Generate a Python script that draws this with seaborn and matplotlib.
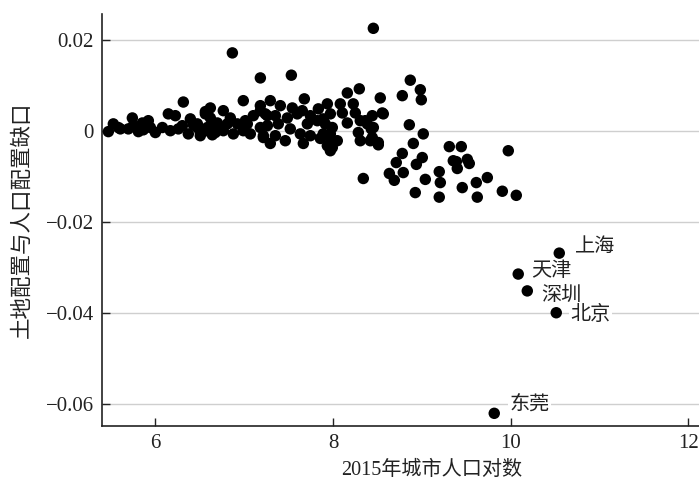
import matplotlib
matplotlib.use('Agg')
import matplotlib.pyplot as plt
import seaborn as sns
import pandas as pd

# log of 2015 urban population vs land/population allocation gap
log_pop = [
    5.471, 5.527, 5.606, 5.741, 5.752, 5.865, 5.854, 5.921, 6.000, 6.079,
    6.146, 6.225, 6.315, 6.304, 6.371, 6.394, 6.473, 6.563, 6.619, 6.653,
    6.506, 5.584, 5.696, 5.809, 5.944, 6.169, 6.259, 6.428, 6.574, 6.641,
    6.990, 6.563, 6.765, 6.473, 6.585, 6.698, 6.844, 6.923, 7.013, 7.103,
    7.182, 7.261, 6.506, 6.675, 6.765, 6.878, 6.990, 7.069, 7.182, 7.216,
    7.035, 6.810, 6.619, 6.867, 7.182, 7.531, 7.677, 7.936,
    7.294, 7.835, 7.182, 7.407, 7.542, 7.654, 7.238, 7.351, 7.486, 7.598,
    7.745, 7.823, 7.913, 7.261, 7.384, 7.519, 7.711, 7.216, 7.351, 7.463,
    7.632, 7.745, 7.857, 7.970, 7.936, 7.666, 7.294,
    8.161, 8.296, 8.532, 8.082, 8.228, 7.970, 8.105, 8.251, 8.307, 8.442,
    8.555, 8.161, 7.992, 8.386, 8.454, 7.970, 8.048, 8.285, 8.307, 8.420,
    8.510, 7.970, 7.890, 7.890, 7.992, 8.363, 8.431,
    8.454, 8.870, 8.983, 8.994, 8.780, 8.566, 8.859, 9.016, 8.904, 8.341,
    8.442, 8.510, 8.780, 8.712, 9.005, 8.938, 8.634, 8.791, 8.690, 9.039,
    8.926, 9.309, 9.444, 9.354, 9.388, 9.512, 9.534, 9.399, 9.196, 9.208,
    9.196, 9.455, 9.613, 9.737, 9.624, 9.906, 10.063, 9.973,
]
gap = [
    -0.0002, 0.0015, 0.0004, 0.0028, 0.0011, 0.0002, 0.0017, 0.0022, -0.0004, 0.0007,
    0.0037, 0.0033, 0.0063, 0.0011, -0.0007, 0.0026, 0.0007, 0.0037, 0.0050, 0.0017,
    -0.0004, 0.0007, 0.0004, -0.0002, 0.0007, 0.0000, 0.0004, 0.0013, 0.0000, -0.0009,
    0.0066, 0.0042, 0.0044, 0.0015, 0.0007, 0.0017, 0.0028, 0.0015, 0.0022, 0.0033,
    0.0044, 0.0033, -0.0011, -0.0004, 0.0000, -0.0007, 0.0000, -0.0007, 0.0007, -0.0015,
    0.0015, 0.0015, 0.0028, 0.0171, 0.0116, 0.0122, 0.0070, 0.0059,
    0.0066, 0.0048, 0.0055, 0.0055, 0.0050, 0.0044, 0.0037, 0.0033, 0.0028, 0.0037,
    0.0033, 0.0022, 0.0015, 0.0011, 0.0015, 0.0004, 0.0015, -0.0011, -0.0011, -0.0022,
    -0.0007, -0.0011, -0.0017, -0.0007, -0.0033, -0.0028, -0.0028,
    0.0083, 0.0092, 0.0072, 0.0059, 0.0059, 0.0037, 0.0039, 0.0039, 0.0022, 0.0033,
    0.0039, 0.0017, 0.0007, 0.0015, 0.0007, -0.0017, -0.0022, -0.0004, -0.0022, -0.0022,
    -0.0026, -0.0044, 0.0026, -0.0007, -0.0037, 0.0022, 0.0004,
    0.0225, 0.0111, 0.0090, 0.0068, 0.0077, 0.0037, 0.0013, -0.0007, -0.0028, -0.0105,
    -0.0015, -0.0031, -0.0050, -0.0070, -0.0059, -0.0074, -0.0094, -0.0092, -0.0109, -0.0107,
    -0.0136, -0.0035, -0.0035, -0.0066, -0.0068, -0.0063, -0.0072, -0.0083, -0.0090, -0.0114,
    -0.0146, -0.0125, -0.0114, -0.0103, -0.0146, -0.0133, -0.0142, -0.0044,
]

cities = ['上海', '天津', '深圳', '北京', '东莞']
city_pop = [10.547, 10.085, 10.187, 10.513, 9.815]
city_gap = [-0.0269, -0.0315, -0.0352, -0.0400, -0.0621]
city_offset = [(11, 4), (9, 2), (10, -4), (10, -2), (11, 6)]

y_ticks = [0.02, 0, -0.02, -0.04, -0.06]
y_labels = ['0.02', '0', '\u22120.02', '\u22120.04', '\u22120.06']
x_ticks = [6, 8, 10, 12]

sns.set_theme(style='white')
plt.rcParams['font.family'] = ['Liberation Serif', 'Noto Sans CJK SC']
plt.rcParams['axes.unicode_minus'] = True

df = pd.DataFrame({'x': log_pop + city_pop, 'y': gap + city_gap})

fig = plt.figure(figsize=(6.99, 4.82), dpi=100)
ax = fig.add_axes([0.146, 0.117, 0.854, 0.854])

ax.grid(axis='y', color='#cfcfcf', linewidth=1.0)
ax.set_axisbelow(True)
sns.scatterplot(data=df, x='x', y='y', color='black', s=68, edgecolor='none',
                linewidth=0, ax=ax, zorder=3)

for name, cx, cy, off in zip(cities, city_pop, city_gap, city_offset):
    ax.annotate(name, (cx, cy), xytext=off, textcoords='offset points',
                ha='left', va='center', fontsize=14.5, color='#222222',
                bbox=dict(facecolor='white', edgecolor='none', pad=1.0), zorder=4)

ax.set_xlim(5.4, 12.12)
ax.set_ylim(-0.0648, 0.02565)
ax.set_xticks(x_ticks)
ax.set_yticks(y_ticks)
ax.set_yticklabels(y_labels)

for side in ['top', 'right']:
    ax.spines[side].set_visible(False)
for side in ['left', 'bottom']:
    ax.spines[side].set_color('#222222')
    ax.spines[side].set_linewidth(1.2)

ax.tick_params(axis='both', direction='in', length=6, width=1, color='#222222',
               bottom=True, left=True, labelsize=15, labelcolor='#222222', pad=6)

ax.set_xlabel('2015年城市人口对数', fontsize=14.5, color='#222222', labelpad=6, x=0.553)
ax.set_ylabel('土地配置与人口配置缺口', fontsize=15.5, color='#222222', labelpad=9)

fig.savefig('out.png', dpi=100)
